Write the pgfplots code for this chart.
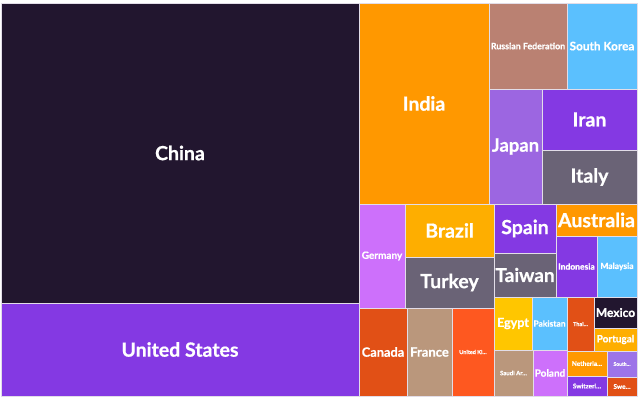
\documentclass[border=0pt]{standalone}
\usepackage{pgfplots}
\pgfplotsset{compat=1.18}
\usepackage{fontspec}
\setmainfont{Lato}[BoldFeatures={FakeBold=0.7}]
\definecolor{cChina}{HTML}{22162F}
\definecolor{cPurple}{HTML}{8439E3}
\definecolor{cOrange}{HTML}{FF9800}
\definecolor{cRosy}{HTML}{BA8172}
\definecolor{cBlue}{HTML}{5BC0FE}
\definecolor{cLPurple}{HTML}{9C66E1}
\definecolor{cGray}{HTML}{6A6376}
\definecolor{cPink}{HTML}{CD70FB}
\definecolor{cAmber}{HTML}{FEAE00}
\definecolor{cRed}{HTML}{E15016}
\definecolor{cTan}{HTML}{BA977C}
\definecolor{cOrRed}{HTML}{FE5820}
\definecolor{cYellow}{HTML}{FFC600}
\definecolor{cLav}{HTML}{9D74E8}
\definecolor{cBorder}{HTML}{E2DDE8}
% \rect{x0}{y0}{x1}{y1}{colour}{label}{font px}
\newcommand{\rect}[7]{%
  \addplot[fill=#5, draw=cBorder, line width=0.9bp] coordinates {(#1,#2) (#3,#2) (#3,#4) (#1,#4)} -- cycle;
  \node[text=white, font=\fontsize{#7bp}{#7bp}\selectfont\bfseries, inner sep=0pt] at (axis cs:{(#1+#3)/2},{(#2+#4)/2}) {#6};
}
\begin{document}
\begin{tikzpicture}
\begin{axis}[
  width=640bp, height=398bp, scale only axis,
  xmin=0, xmax=640, ymin=0, ymax=398, y dir=reverse,
  hide axis, clip=false,
]
\rect{1}{3}{359}{303}{cChina}{China}{19.5}
\rect{1}{303}{359}{396}{cPurple}{United States}{19.5}
\rect{359}{3}{489}{204}{cOrange}{India}{19.5}
\rect{489}{3}{567}{89}{cRosy}{Russian Federation}{8.8}
\rect{567}{3}{637}{89}{cBlue}{South Korea}{11.8}
\rect{489}{89}{542}{204}{cLPurple}{Japan}{18.5}
\rect{542}{89}{637}{150}{cPurple}{Iran}{19.5}
\rect{542}{150}{637}{204}{cGray}{Italy}{19.5}
\rect{359}{204}{405}{308}{cPink}{Germany}{10}
\rect{405}{204}{494}{257}{cAmber}{Brazil}{19.5}
\rect{405}{257}{494}{308}{cGray}{Turkey}{19.5}
\rect{494}{204}{556}{253}{cPurple}{Spain}{19.5}
\rect{494}{253}{556}{297}{cGray}{Taiwan}{19}
\rect{556}{204}{637}{236}{cOrange}{Australia}{19.5}
\rect{556}{236}{597}{297}{cPurple}{Indonesia}{8.5}
\rect{597}{236}{637}{297}{cBlue}{Malaysia}{8.5}
\rect{359}{308}{407}{396}{cRed}{Canada}{12.8}
\rect{407}{308}{452}{396}{cTan}{France}{13}
\rect{452}{308}{494}{396}{cOrRed}{United Ki…}{5.5}
\rect{494}{297}{532}{350}{cYellow}{Egypt}{12.5}
\rect{532}{297}{567}{350}{cBlue}{Pakistan}{8.5}
\rect{494}{350}{533}{396}{cTan}{Saudi Ar…}{6}
\rect{533}{350}{567}{396}{cPink}{Poland}{10}
\rect{567}{297}{594}{351}{cRed}{Thai…}{5.5}
\rect{594}{297}{637}{328}{cChina}{Mexico}{12}
\rect{594}{328}{637}{351}{cAmber}{Portugal}{10}
\rect{567}{351}{607}{376}{cOrange}{Netherla…}{6.5}
\rect{567}{376}{607}{396}{cPurple}{Switzerl…}{6.5}
\rect{607}{351}{637}{377}{cLav}{South…}{5}
\rect{607}{377}{637}{396}{cRed}{Swe…}{6.5}
\end{axis}
\pgfresetboundingbox
\path (current axis.south west) rectangle (current axis.north east);
\end{tikzpicture}
\end{document}
